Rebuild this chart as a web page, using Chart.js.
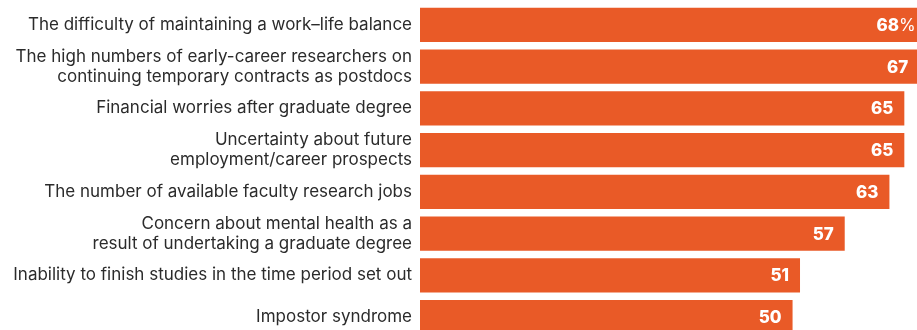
<!DOCTYPE html>
<html>
<head>
<meta charset="utf-8">
<script src="https://cdn.jsdelivr.net/npm/chart.js@4"></script>
<style>
  html, body { margin: 0; padding: 0; background: #fff; overflow: hidden; }
  #wrap { width: 917px; height: 338px; position: relative; }
</style>
</head>
<body>
<div id="wrap"><canvas id="chart"></canvas></div>
<script>
// categories (multi-line ones split into arrays)
const categories = [
    'The difficulty of maintaining a work\u2013life balance',
    ['The high numbers of early-career researchers on', 'continuing temporary contracts as postdocs'],
    'Financial worries after graduate degree',
    ['Uncertainty about future', 'employment/career prospects'],
    'The number of available faculty research jobs',
    ['Concern about mental health as a', 'result of undertaking a graduate degree'],
    'Inability to finish studies in the time period set out',
    'Impostor syndrome'
];
const values = [68, 67, 65, 65, 63, 57, 51, 50];
const valueSuffix = ['%', '', '', '', '', '', '', ''];

const barColor = '#E95A27';
const labelFont = 'Inter, Roboto, sans-serif';

// white value labels at the end of each bar
const valueLabels = {
    id: 'valueLabels',
    afterDatasetsDraw(chart) {
        const ctx = chart.ctx;
        const meta = chart.getDatasetMeta(0);
        ctx.save();
        ctx.fillStyle = '#fff';
        ctx.textBaseline = 'middle';
        ctx.textAlign = 'right';
        meta.data.forEach((bar, i) => {
            let x = bar.x - 11;
            const y = bar.y + 1;
            if (valueSuffix[i]) {
                ctx.font = '400 17px ' + labelFont;
                ctx.fillText(valueSuffix[i], x, y);
                x -= ctx.measureText(valueSuffix[i]).width;
            }
            ctx.font = '800 17px ' + labelFont;
            ctx.fillText(String(values[i]), x, y);
        });
        ctx.restore();
    }
};

new Chart(document.getElementById('chart'), {
    type: 'bar',
    data: {
        labels: categories,
        datasets: [{
            data: values,
            backgroundColor: barColor,
            borderWidth: 0,
            barPercentage: 0.815,
            categoryPercentage: 1
        }]
    },
    options: {
        indexAxis: 'y',
        responsive: true,
        maintainAspectRatio: false,
        animation: false,
        layout: { padding: { top: 4, left: 0, right: 0, bottom: 0 } },
        plugins: {
            legend: { display: false },
            tooltip: { enabled: false }
        },
        scales: {
            x: {
                display: false,
                min: 0,
                max: 66.7
            },
            y: {
                grid: { display: false, drawTicks: false },
                border: { display: false },
                afterFit(scale) {
                    scale.width = 420;
                    scale.paddingTop = 0;
                    scale.paddingBottom = 0;
                },
                ticks: {
                    autoSkip: false,
                    padding: 8,
                    color: '#2b2b2b',
                    font: { family: labelFont, size: 17, lineHeight: 1.2 },
                    crossAlign: 'near'
                }
            }
        }
    },
    plugins: [valueLabels]
});
</script>
</body>
</html>
